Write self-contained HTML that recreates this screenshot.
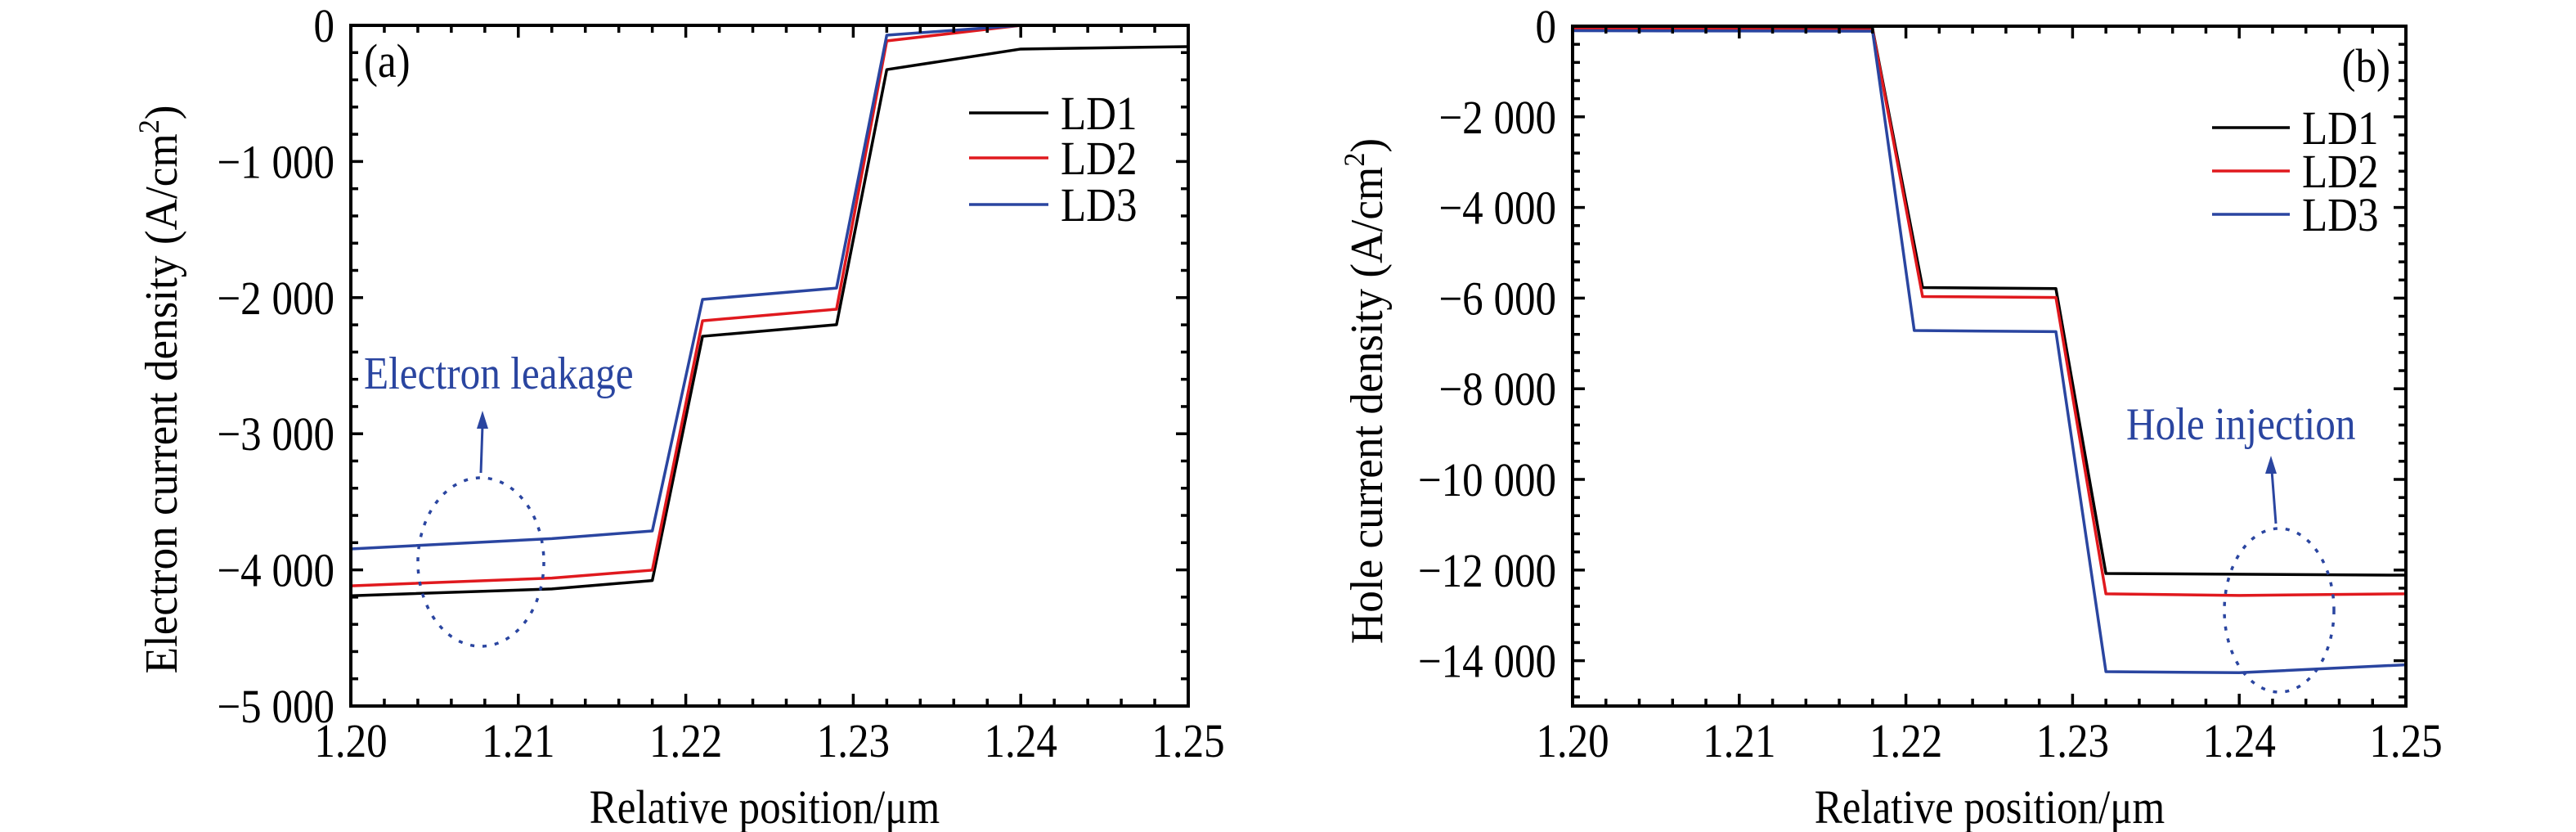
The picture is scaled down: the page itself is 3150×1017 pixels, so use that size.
<!DOCTYPE html>
<html><head><meta charset="utf-8"><style>
html,body{margin:0;padding:0;background:#fff;}
svg{display:block;}
text{font-family:"Liberation Serif",serif;}
</style></head><body>
<svg id="s" width="3150" height="1017" viewBox="0 0 3150 1017" xmlns="http://www.w3.org/2000/svg"></svg>
<script>
const s=document.getElementById('s');
let h='';
function T(x,y,size,anchor,content,fill,sx,rot){
  sx=sx||0.88; fill=fill||'#000';
  const r=rot?` rotate(${rot})`:'';
  h+=`<g transform="translate(${x},${y})${r} scale(${sx},1)"><text x="0" y="0" font-family="Liberation Serif, serif" font-size="${size}" text-anchor="${anchor}" fill="${fill}">${content}</text></g>`;
}
function panel(o){
  const {x0,x1,y0,y1,vmin,vmax,major,minorN,labelFmt}=o;
  const X=v=>x0+(v-1.20)/0.05*(x1-x0);
  const Y=v=>y0+(vmax-v)/(vmax-vmin)*(y1-y0);
  const cols=['#000','#e0191e','#2a45a0'];
  o.series.forEach((d,i)=>{
    h+=`<polyline fill="none" stroke="${cols[i]}" stroke-width="3.5" stroke-linejoin="round" points="${d.map(p=>X(p[0])+','+Y(p[1])).join(' ')}"/>`;
  });
  h+=`<rect x="${x0}" y="${y0}" width="${x1-x0}" height="${y1-y0}" fill="none" stroke="#000" stroke-width="4"/>`;
  for(let i=0;i<=25;i++){
    const v=1.20+i*0.002, px=X(v), L=(i%5==0)?15:9;
    h+=`<line x1="${px}" y1="${y1}" x2="${px}" y2="${y1-L}" stroke="#000" stroke-width="3.5"/>`;
    h+=`<line x1="${px}" y1="${y0}" x2="${px}" y2="${y0+L}" stroke="#000" stroke-width="3.5"/>`;
    if(i%5==0) T(px,y1+62,58,'middle',(1.20+i*0.002).toFixed(2));
  }
  const step=major/minorN;
  for(let v=vmax, k=0; v>=vmin-1e-6; v-=step, k++){
    const py=Y(v), isM=(k%minorN==0), L=isM?15:9;
    h+=`<line x1="${x0}" y1="${py}" x2="${x0+L}" y2="${py}" stroke="#000" stroke-width="3.5"/>`;
    h+=`<line x1="${x1}" y1="${py}" x2="${x1-L}" y2="${py}" stroke="#000" stroke-width="3.5"/>`;
    if(isM){
      let t=v==0?'0':'\u2212'+labelFmt(-v);
      T(x0-20,py+20,58,'end',t);
    }
  }
  ['LD1','LD2','LD3'].forEach((n,i)=>{
    const ly=o.leg.y[i];
    h+=`<line x1="${o.leg.lx0}" y1="${ly}" x2="${o.leg.lx1}" y2="${ly}" stroke="${cols[i]}" stroke-width="3.5"/>`;
    T(o.leg.tx,ly+20,58,'start',n);
  });
}
const fmt=n=>{const t=Math.round(n/1000), r=n%1000; return t+' '+String(r).padStart(3,'0');};
panel({x0:429,x1:1453,y0:31,y1:863,vmin:-5000,vmax:0,major:1000,minorN:5,labelFmt:fmt,
 series:[
  [[1.20,-4190],[1.212,-4140],[1.218,-4078],[1.221,-2284],[1.229,-2199],[1.232,-325],[1.240,-174],[1.25,-156]],
  [[1.20,-4117],[1.212,-4060],[1.218,-4002],[1.221,-2170],[1.229,-2085],[1.232,-114],[1.240,0],[1.25,0]],
  [[1.20,-3846],[1.212,-3770],[1.218,-3714],[1.221,-2013],[1.229,-1930],[1.232,-72],[1.240,0],[1.25,0]]],
 leg:{lx0:1185,lx1:1282,tx:1297,y:[138,193,250]}});
panel({x0:1923,x1:2942,y0:32,y1:863,vmin:-15000,vmax:0,major:2000,minorN:5,labelFmt:fmt,
 series:[
  [[1.20,-40],[1.218,-60],[1.221,-5767],[1.229,-5790],[1.232,-12076],[1.25,-12113]],
  [[1.20,-60],[1.218,-80],[1.221,-5966],[1.229,-5985],[1.232,-12524],[1.24,-12560],[1.25,-12524]],
  [[1.20,-100],[1.218,-110],[1.2205,-6715],[1.229,-6740],[1.232,-14242],[1.24,-14265],[1.25,-14090]]],
 leg:{lx0:2705,lx1:2800,tx:2815,y:[156,209,262]}});
const B='#2a45a0';
T(445,94,58,'start','(a)');
T(2923,100,58,'end','(b)');
T(445,475,56,'start','Electron leakage',B);
T(2600,537,56,'start','Hole injection',B);
h+=`<line x1="588" y1="578" x2="590" y2="520" stroke="${B}" stroke-width="3"/><polygon points="590,502 583,524 597,524" fill="${B}"/>`;
h+=`<line x1="2783" y1="640" x2="2778" y2="575" stroke="${B}" stroke-width="3"/><polygon points="2777,557 2770,579 2784,579" fill="${B}"/>`;
h+=`<ellipse cx="588" cy="687" rx="77" ry="103" fill="none" stroke="${B}" stroke-width="3.5" stroke-dasharray="5 10"/>`;
h+=`<ellipse cx="2787" cy="746" rx="67" ry="100" fill="none" stroke="${B}" stroke-width="3.5" stroke-dasharray="5 10"/>`;
T(935,1006,58,'middle','Relative position/μm');
T(2433,1006,58,'middle','Relative position/μm');
const yt=(x,y,str)=>{h+=`<g transform="translate(${x},${y}) rotate(-90) scale(0.95,1)"><text x="0" y="0" font-family="Liberation Serif, serif" font-size="56" text-anchor="middle">${str} (A/cm<tspan font-size="36" dy="-22">2</tspan><tspan dy="22">)</tspan></text></g>`;};
yt(216,476,'Electron current density');
yt(1690,478,'Hole current density');
s.innerHTML=h;
</script>
</body></html>
